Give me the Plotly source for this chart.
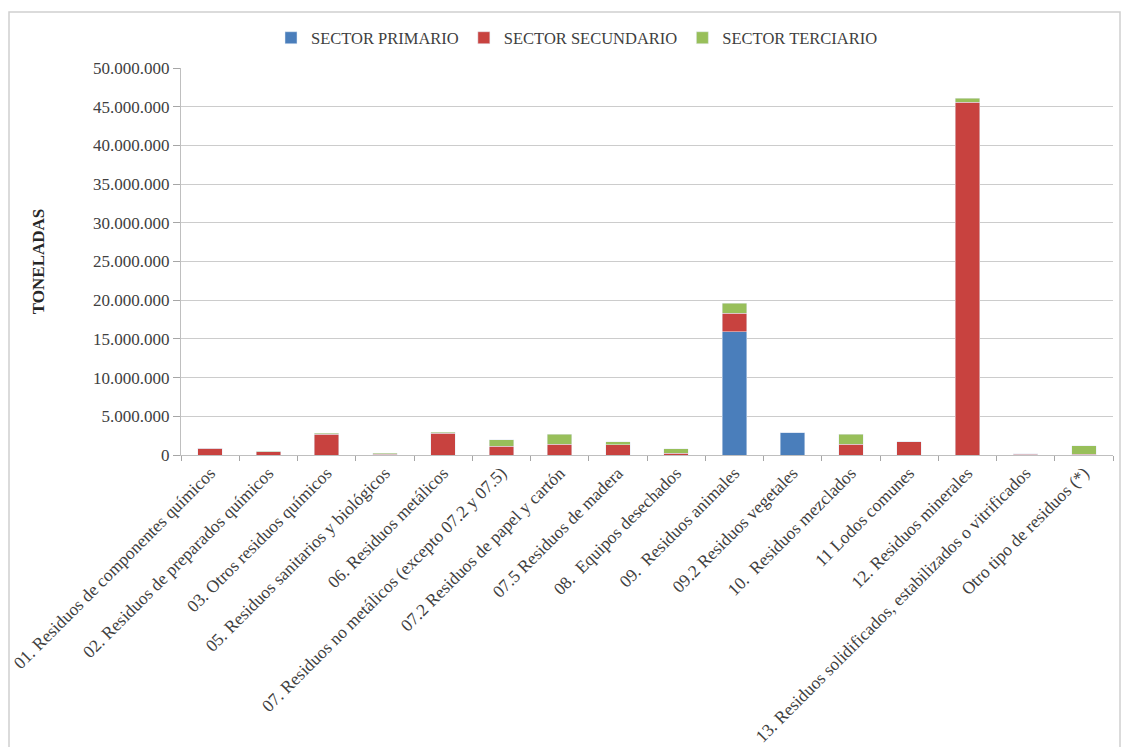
import plotly.graph_objects as go

categorias = [
    "01. Residuos de componentes químicos",
    "02. Residuos de preparados químicos",
    "03. Otros residuos químicos",
    "05. Residuos sanitarios y biológicos",
    "06. Residuos metálicos",
    "07. Residuos no metálicos (excepto 07.2 y 07.5)",
    "07.2 Residuos de papel y cartón",
    "07.5 Residuos de madera",
    "08.  Equipos desechados",
    "09.  Residuos animales",
    "09.2 Residuos vegetales",
    "10.  Residuos mezclados",
    "11 Lodos comunes",
    "12. Residuos minerales",
    "13. Residuos solidificados, estabilizados o vitrificados",
    "Otro tipo de residuos (*)",
]

sector_primario = [0, 0, 0, 0, 0, 0, 0, 0, 0,
                   15900000, 2950000, 0, 0, 0, 0, 0]
sector_secundario = [850000, 400000, 2650000, 100000, 2800000, 1150000, 1400000, 1350000, 200000,
                     2400000, 0, 1400000, 1700000, 45600000, 120000, 100000]
sector_terciario = [50000, 60000, 180000, 150000, 150000, 800000, 1300000, 350000, 600000,
                    1300000, 0, 1300000, 0, 500000, 30000, 1100000]

colores = {"primario": "#4A7EBB", "secundario": "#C8423F", "terciario": "#98BF5A"}
serif = "Liberation Serif, Times New Roman, serif"

fig = go.Figure()
fig.add_trace(go.Bar(name="SECTOR PRIMARIO", x=categorias, y=sector_primario,
                     marker_color=colores["primario"]))
fig.add_trace(go.Bar(name="SECTOR SECUNDARIO", x=categorias, y=sector_secundario,
                     marker_color=colores["secundario"]))
fig.add_trace(go.Bar(name="SECTOR TERCIARIO", x=categorias, y=sector_terciario,
                     marker_color=colores["terciario"]))

W, H = 1127, 747
ml, mr, mt, mb = 181, 14, 68, 292
pw, ph = W - ml - mr, H - mt - mb


def px_x(px):
    return (px - ml) / pw


def px_y(py):
    return (H - mb - py) / ph


fig.update_layout(
    width=W, height=H,
    barmode="stack",
    bargap=0.58,
    separators=",.",
    paper_bgcolor="white",
    plot_bgcolor="white",
    margin=dict(l=ml, r=mr, t=mt, b=mb, autoexpand=False),
    font=dict(family=serif, size=16, color="#404040"),
    legend=dict(orientation="h", traceorder="normal",
                x=px_x(577), xanchor="center", y=px_y(38), yanchor="middle",
                font=dict(family=serif, size=16.5, color="#404040"),
                itemwidth=30, tracegroupgap=0),
    xaxis=dict(
        tickangle=-45,
        tickson="boundaries",
        ticks="outside", ticklen=5, tickcolor="#a6a6a6",
        showline=True, linecolor="#bfbfbf", linewidth=1,
        showgrid=False,
        tickfont=dict(family=serif, size=17.5, color="#404040"),
    ),
    yaxis=dict(
        range=[0, 50000000],
        dtick=5000000,
        tickformat=",d",
        ticks="outside", ticklen=7, tickcolor="#a6a6a6",
        showline=True, linecolor="#bfbfbf", linewidth=1,
        showgrid=True, gridcolor="#cccccc", gridwidth=1,
        zeroline=False,
        tickfont=dict(family=serif, size=17, color="#404040"),
        title=dict(text="<b>TONELADAS</b>", standoff=44,
                   font=dict(family=serif, size=17, color="#262626")),
    ),
)

# outer chart frame
fig.add_shape(type="rect", xref="paper", yref="paper",
              x0=px_x(9), x1=px_x(1120), y0=px_y(770), y1=px_y(12),
              line=dict(color="#d0d0d0", width=1.5), fillcolor="rgba(0,0,0,0)",
              layer="below")

fig.write_html("out.html")
